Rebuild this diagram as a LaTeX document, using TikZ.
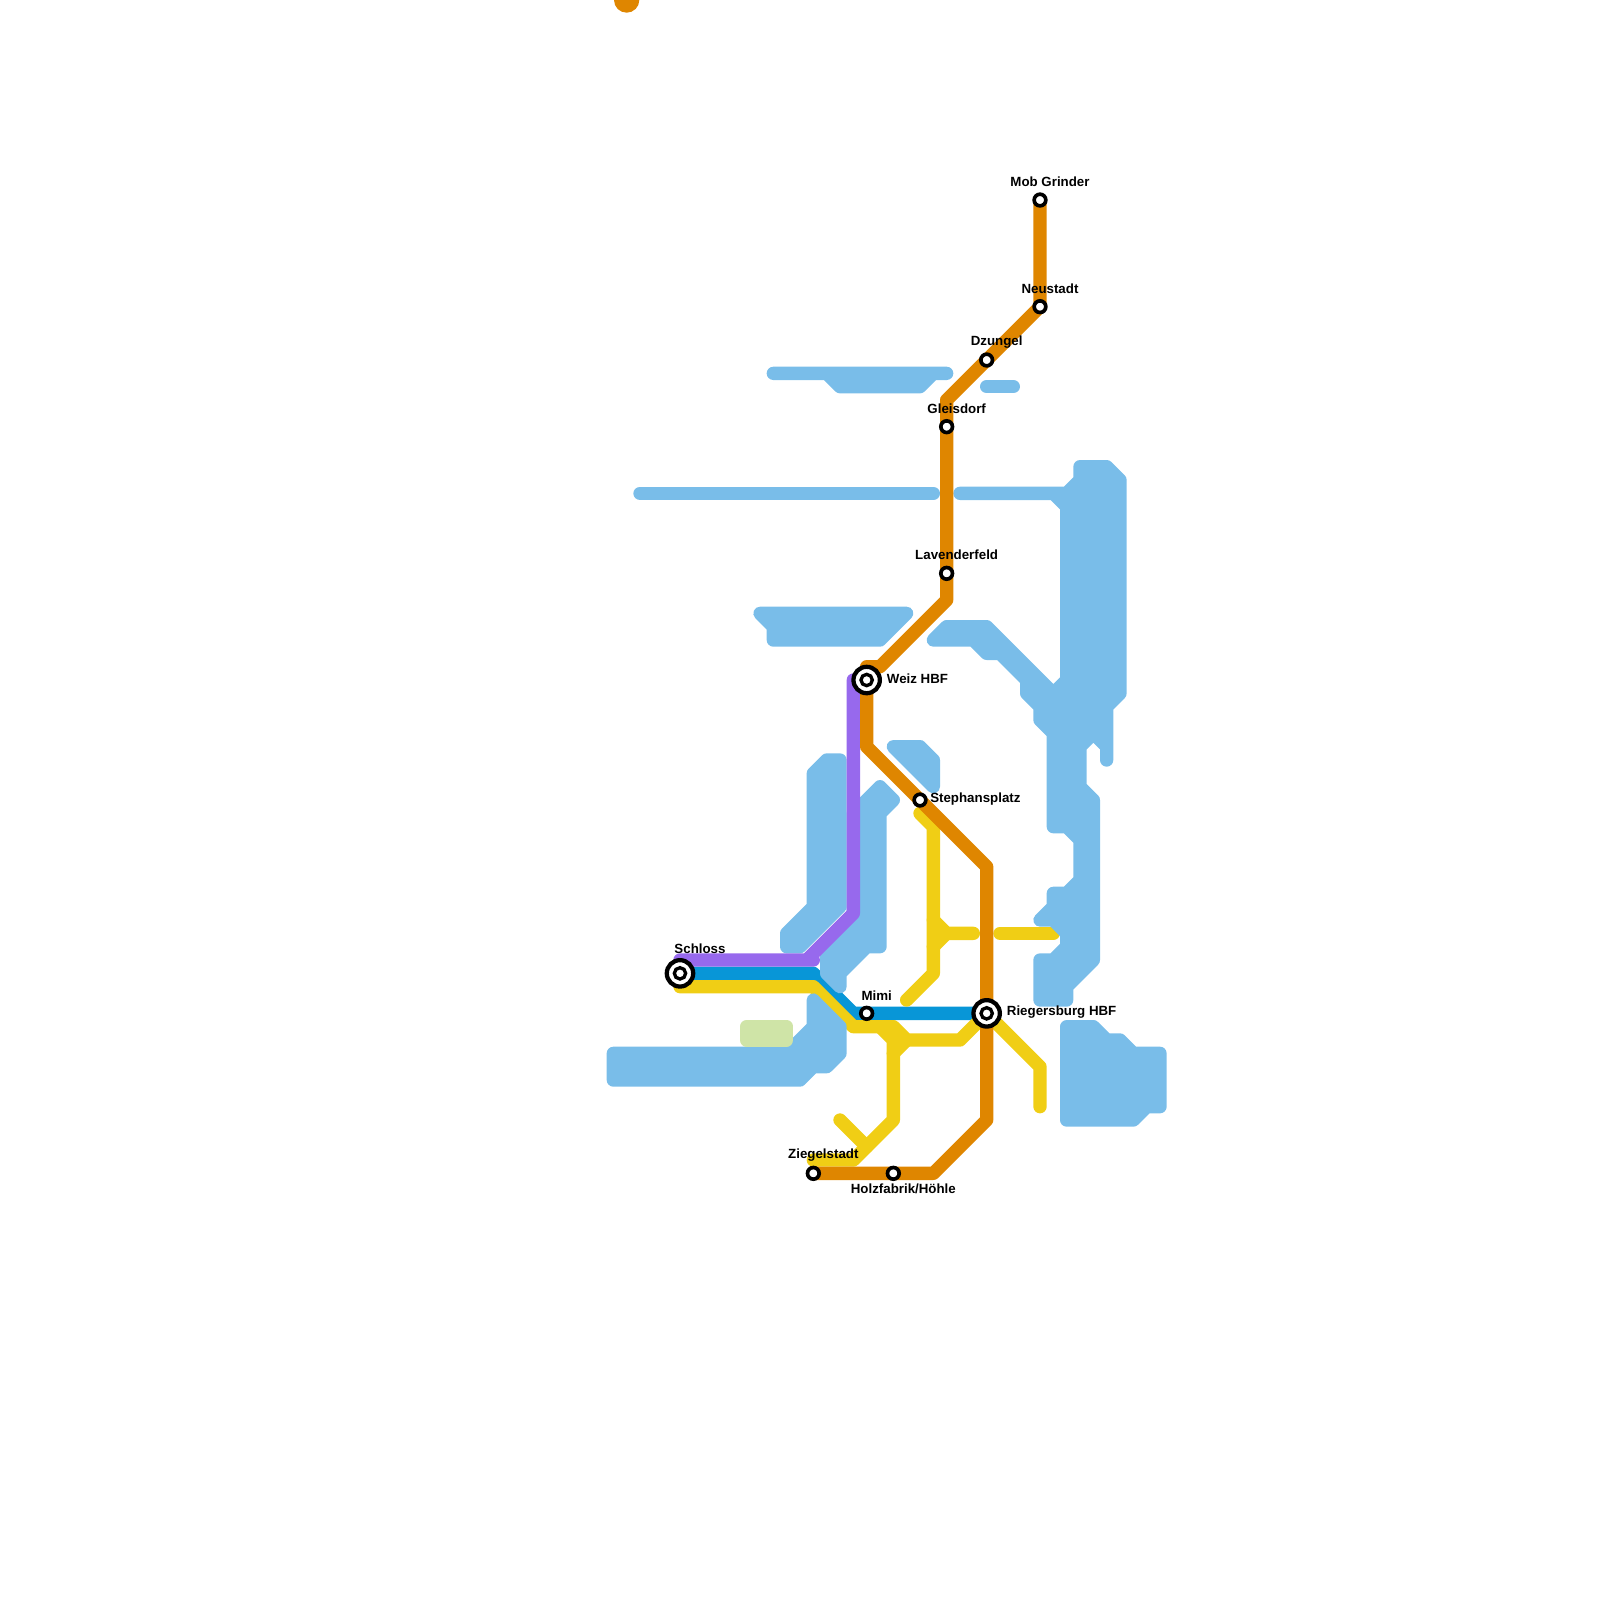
\documentclass[tikz,border=0pt]{standalone}
\usepackage{fontspec}
\setmainfont{Liberation Sans}
\usepackage{xcolor}
\usepackage{tikz}

\definecolor{waterblue}{HTML}{79BDE9}
\definecolor{parkgreen}{HTML}{CFE4A7}
\definecolor{orangeline}{HTML}{DF8600}
\definecolor{purpleline}{HTML}{9769ED}
\definecolor{blueline}{HTML}{0896D7}
\definecolor{yellowline}{HTML}{F0CE15}

\tikzset{
  water/.style={fill=waterblue, draw=waterblue, line width=1mm, line join=round, line cap=round},
  park/.style={fill=parkgreen, draw=parkgreen, line width=1mm, line join=round},
  metro/.style={line width=1mm, line join=round, line cap=round},
  stop/.style={circle, draw=black, fill=white, line width=0.275mm, minimum size=0.875mm, inner sep=0pt},
  hub/.style={circle, draw=black, fill=white, line width=0.32mm, minimum size=1.98mm, inner sep=0pt},
  hubcore/.style={circle, draw=black, fill=white, line width=0.25mm, minimum size=0.85mm, inner sep=0pt},
  tag/.style={font=\bfseries\fontsize{2.84pt}{3.2pt}\selectfont, inner sep=0pt, text=black}
}

\begin{document}
\begin{tikzpicture}[x=1mm, y=-1mm]
  \useasboundingbox (0,0) rectangle (120,120);

  % Stations
  \coordinate (mobgrinder) at (78,15);
  \coordinate (neustadt) at (78,23);
  \coordinate (dzungel) at (74,27);
  \coordinate (gleisdorf) at (71,32);
  \coordinate (lavenderfeld) at (71,43);
  \coordinate (weiz) at (65,51);
  \coordinate (stephansplatz) at (69,60);
  \coordinate (schloss) at (51,73);
  \coordinate (mimi) at (65,76);
  \coordinate (riegersburg) at (74,76);
  \coordinate (ziegelstadt) at (61,88);
  \coordinate (holzfabrik) at (67,88);

  % Blue line
  \draw[metro, blueline] (schloss) -- (61,73) -- (64,76) -- (mimi) -- (riegersburg);

  % Yellow line
  \draw[metro, yellowline] (schloss |- 0,74) -- (61,74) -- (64,77) -- (67,77) -- (68,78) -- (72,78) -- (riegersburg);
  \draw[metro, yellowline] (66,77) -- (67,78) -- (67,84) -- (64,87) -- (61,87);
  \draw[metro, yellowline] (67,79) -- (68,78);
  \draw[metro, yellowline] (63,84) -- (65,86);
  \draw[metro, yellowline] (stephansplatz |- 0,61) -- (70,62) -- (70,73) -- (68,75);
  \draw[metro, yellowline] (70,69) -- (71,70) -- (73,70);
  \draw[metro, yellowline] (70,71) -- (71,70);
  \draw[metro, yellowline] (riegersburg) -- (78,80) -- (78,83);
  \draw[metro, yellowline] (75,70) -- (79,70);

  % Water
  \draw[water] (79,62) -- (79,55) -- (78,54) -- (78,53) -- (77,52) -- (77,51) -- (75,49) -- (74,49)
    -- (73,48) -- (70,48) -- (71,47) -- (74,47) -- (79,52) -- (80,51) -- (80,38) -- (79,37) -- (72,37)
    -- (80,37) -- (81,36) -- (81,35) -- (83,35) -- (84,36) -- (84,52) -- (83,53) -- (83,57) -- (83,56)
    -- (82,55) -- (81,56) -- (81,59) -- (82,60) -- (82,72) -- (80,74) -- (80,75) -- (78,75) -- (78,72)
    -- (79,72) -- (80,71) -- (80,70) -- (79,69) -- (78,69) -- (79,68) -- (79,67) -- (80,67) -- (81,66)
    -- (81,63) -- (80,62) -- cycle;
  \draw[water] (80,77) -- (82,77) -- (83,78) -- (84,78) -- (85,79) -- (87,79) -- (87,83) -- (86,83)
    -- (85,84) -- (80,84) -- cycle;
  \draw[water] (61,75) -- (63,77) -- (63,79) -- (62,80) -- (61,80) -- (60,81) -- (46,81) -- (46,79)
    -- (59,79) -- (61,77) -- cycle;
  \draw[water] (62,57) -- (63,57) -- (63,68) -- (60,71) -- (59,71) -- (59,70) -- (61,68) -- (61,58) -- cycle;
  \draw[water] (66,59) -- (67,60) -- (66,61) -- (66,71) -- (65,71) -- (63,73) -- (63,74) -- (62,73)
    -- (62,71) -- (64,69) -- (64,61) -- cycle;
  \draw[water] (67,56) -- (69,56) -- (70,57) -- (70,59) -- cycle;
  \draw[water] (57,46) -- (68,46) -- (66,48) -- (58,48) -- (58,47) -- cycle;
  \draw[water] (58,28) -- (62,28) -- (63,29) -- (69,29) -- (70,28) -- (71,28) -- cycle;
  \draw[water] (74,29) -- (76,29);
  \draw[water] (48,37) -- (70,37);

  % Park
  \draw[park] (56,77) -- (59,77) -- (59,78) -- (56,78) -- cycle;

  % Purple line
  \draw[metro, purpleline] (schloss |- 0,72) -- (61,72) -- (60.5,72) -- (64,68.5) -- (64,51);

  % Orange line
  \draw[metro, orangeline] (mobgrinder) -- (neustadt) -- (dzungel) -- (71,30) -- (gleisdorf) -- (lavenderfeld)
    -- (71,45) -- (66,50) -- (65,50) -- (weiz) -- (65,56) -- (stephansplatz) -- (74,65) -- (riegersburg)
    -- (74,84) -- (70,88) -- (holzfabrik) -- (ziegelstadt);
  \fill[orangeline] (47,0) circle (0.95);

  % Station markers
  \node[stop] (stopMob) at (mobgrinder) {};
  \node[stop] (stopNeu) at (neustadt) {};
  \node[stop] (stopDzu) at (dzungel) {};
  \node[stop] (stopGle) at (gleisdorf) {};
  \node[stop] (stopLav) at (lavenderfeld) {};
  \node[stop] (stopSte) at (stephansplatz) {};
  \node[stop] (stopMim) at (mimi) {};
  \node[stop] (stopZie) at (ziegelstadt) {};
  \node[stop] (stopHol) at (holzfabrik) {};
  \foreach \hubname in {weiz, schloss, riegersburg} {
    \node[hub] at (\hubname) {};
    \node[hubcore] at (\hubname) {};
  }

  % Labels
  \node[tag] (tagMob) at (78.75,13.63) {Mob Grinder};
  \node[tag] (tagNeu) at (78.75,21.63) {Neustadt};
  \node[tag] (tagDzu) at (74.75,25.63) {Dzungel};
  \node[tag] (tagGle) at (71.75,30.63) {Gleisdorf};
  \node[tag] (tagLav) at (71.75,41.63) {Lavenderfeld};
  \node[tag, anchor=west] (tagWei) at (66.45,50.9) {Weiz HBF};
  \node[tag, anchor=west] (tagSte) at (69.7,59.9) {Stephansplatz};
  \node[tag, anchor=west] (tagRie) at (75.45,75.9) {Riegersburg HBF};
  \node[tag] (tagSch) at (52.5,71.15) {Schloss};
  \node[tag] (tagMim) at (65.75,74.65) {Mimi};
  \node[tag] (tagZie) at (61.75,86.65) {Ziegelstadt};
  \node[tag] (tagHol) at (67.75,89.15) {Holzfabrik/Höhle};
\end{tikzpicture}
\end{document}
